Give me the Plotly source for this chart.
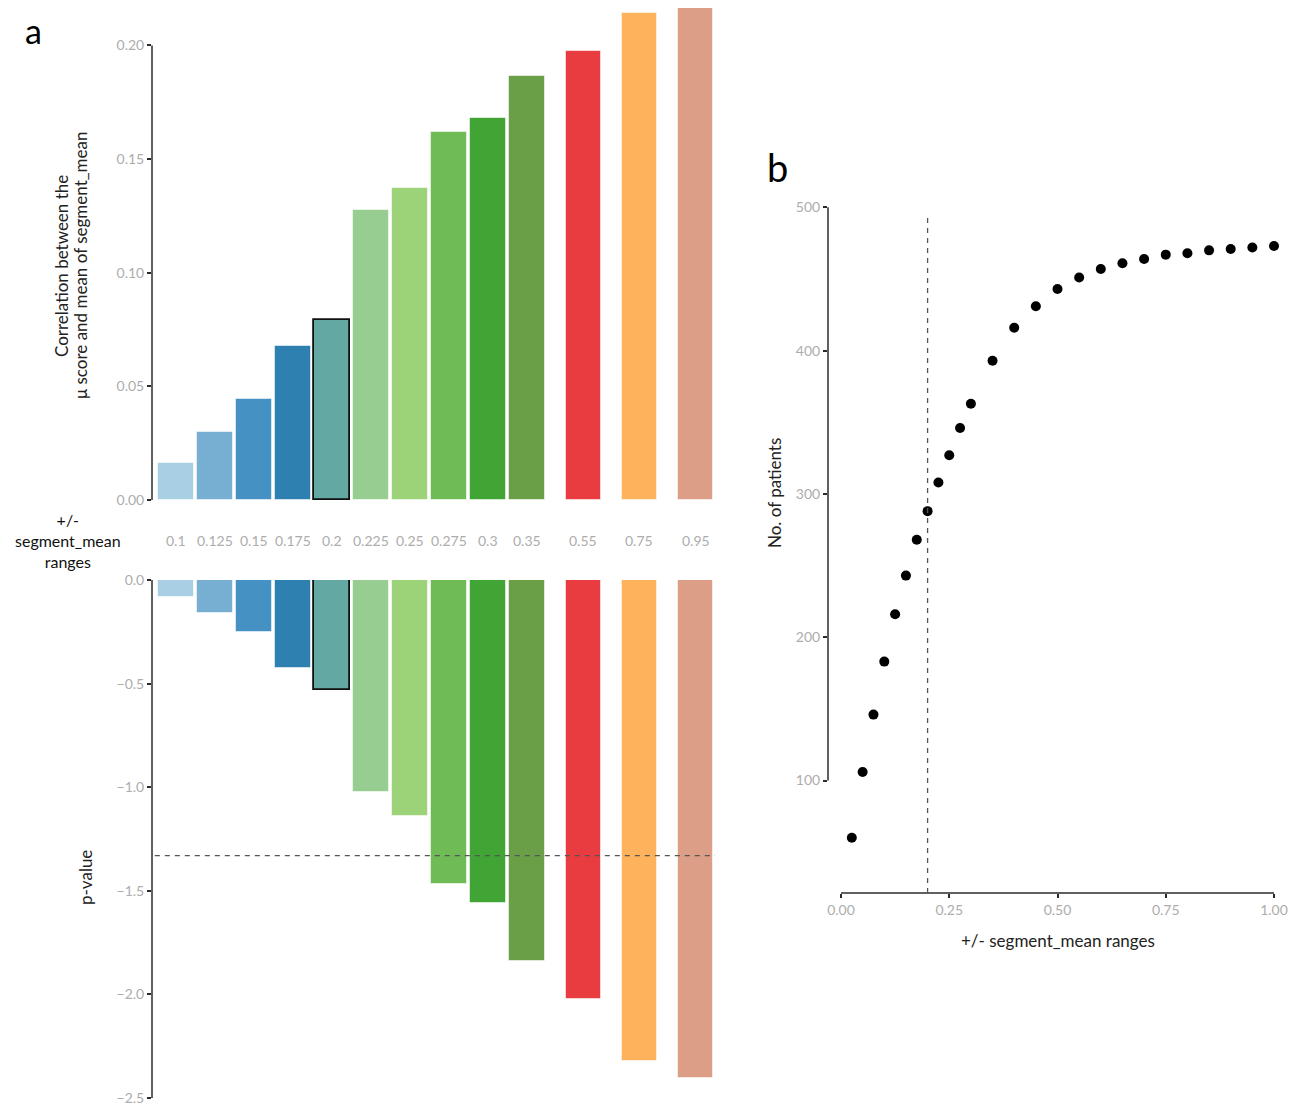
import plotly.graph_objects as go

# ---------------- data ----------------
categories = ["0.1", "0.125", "0.15", "0.175", "0.2", "0.225", "0.25", "0.275", "0.3", "0.35", "0.55", "0.75", "0.95"]
correlation = [0.0163, 0.0299, 0.0444, 0.0677, 0.0791, 0.1275, 0.1371, 0.1618, 0.1679, 0.1864, 0.1974, 0.2145, 0.2189]
pvalue_log = [-0.082, -0.159, -0.251, -0.425, -0.531, -1.023, -1.139, -1.467, -1.559, -1.839, -2.022, -2.321, -2.403]
bar_colors = ["#a8cfe3", "#77afd3", "#4591c3", "#2d80b0", "#63a8a3", "#98cd92", "#9dd378",
              "#6fbb55", "#40a535", "#6a9f48", "#e93c40", "#fdb25b", "#dd9e87"]
highlight = "0.2"
pvalue_threshold = -1.33

ranges_b = [0.025, 0.05, 0.075, 0.1, 0.125, 0.15, 0.175, 0.2, 0.225, 0.25, 0.275, 0.3,
            0.35, 0.4, 0.45, 0.5, 0.55, 0.6, 0.65, 0.7, 0.75, 0.8, 0.85, 0.9, 0.95, 1.0]
patients = [60, 106, 146, 183, 216, 243, 268, 288, 308, 327, 346, 363,
            393, 416, 431, 443, 451, 457, 461, 464, 467, 468, 470, 471, 472, 473]
chosen_range = 0.2

top_ticks = [0.0, 0.05, 0.10, 0.15, 0.20]
top_ticktext = ["0.00", "0.05", "0.10", "0.15", "0.20"]
bot_ticks = [0.0, -0.5, -1.0, -1.5, -2.0, -2.5]
bot_ticktext = ["0.0", "\u22120.5", "\u22121.0", "\u22121.5", "\u22122.0", "\u22122.5"]
b_xticks = [0.0, 0.25, 0.5, 0.75, 1.0]
b_xticktext = ["0.00", "0.25", "0.50", "0.75", "1.00"]
b_yticks = [100, 200, 300, 400, 500]

top_title_lines = ["Correlation between the", "\u03bc score and mean of segment_mean"]
mid_title = "+/-<br>segment_mean<br>ranges"

# ---------------- layout helpers ----------------
OFF = 8  # default page body margin
W, H = 1301 - OFF, 1109 - OFF
def px_x(p): return (p - OFF) / W
def px_y(p): return 1 - (p - OFF) / H

# bar slot positions: first ten evenly spaced, last three with wider gaps
gap_groups = [0] * 10 + [1, 2, 3]
xpos = [i + 1 + 0.44 * g for i, g in enumerate(gap_groups)]

FONT = "Lato"
GREY = "#adadad"
AX = "#2b2b2b"

line_cols = ["#111111" if c == highlight else "rgba(255,255,255,0.55)" for c in categories]
line_w = [1.8 if c == highlight else 1 for c in categories]

fig = go.Figure()
fig.add_trace(go.Bar(x=xpos, y=correlation, width=0.9, marker=dict(color=bar_colors, line=dict(color=line_cols, width=line_w)),
                     xaxis="x", yaxis="y", showlegend=False, hoverinfo="skip"))
fig.add_trace(go.Bar(x=xpos, y=pvalue_log, width=0.9, marker=dict(color=bar_colors, line=dict(color=line_cols, width=line_w)),
                     xaxis="x2", yaxis="y2", showlegend=False, hoverinfo="skip"))
fig.add_trace(go.Scatter(x=ranges_b, y=patients, mode="markers", marker=dict(color="black", size=10),
                         xaxis="x3", yaxis="y3", showlegend=False, cliponaxis=False))

xr = [0.385, 14.82]
tickfont = dict(family=FONT, size=14, color=GREY)
common_y = dict(showgrid=False, zeroline=False, showline=False, ticks="outside", ticklen=4, tickwidth=1.5,
                tickcolor=AX, tickfont=tickfont, automargin=False)

fig.update_layout(
    width=W, height=H, margin=dict(l=0, r=0, t=0, b=0, autoexpand=False),
    paper_bgcolor="white", plot_bgcolor="white",
    font=dict(family=FONT, size=15, color="#222"),
    bargap=0,
    xaxis=dict(domain=[px_x(152), px_x(715)], range=xr, visible=False, anchor="y", automargin=False),
    yaxis=dict(domain=[px_y(500), px_y(8)], range=[0, 0.22 * 492 / 500], tickvals=top_ticks, ticktext=top_ticktext,
               anchor="x", **common_y),
    xaxis2=dict(domain=[px_x(152), px_x(715)], range=xr, visible=False, anchor="y2", automargin=False),
    yaxis2=dict(domain=[px_y(1098), px_y(580)], range=[-2.5, 0], tickvals=bot_ticks, ticktext=bot_ticktext,
                anchor="x2", **common_y),
    xaxis3=dict(domain=[px_x(828), px_x(1287)], range=[-0.03, 1.03], tickvals=b_xticks, ticktext=b_xticktext,
                anchor="y3", showgrid=False, zeroline=False, showline=False, ticks="outside", ticklen=4,
                tickwidth=1.5, tickcolor=AX, tickfont=tickfont, automargin=False),
    yaxis3=dict(domain=[px_y(893), px_y(204.5)], range=[21.5, 502], tickvals=b_yticks,
                anchor="x3", **common_y),
)

DASH = "5px,5px"
shapes = [
    # capped axis lines
    dict(type="line", xref="x domain", yref="y", x0=0, x1=0, y0=0, y1=0.2, line=dict(color=AX, width=1.5)),
    dict(type="line", xref="x2 domain", yref="y2", x0=0, x1=0, y0=0, y1=-2.5, line=dict(color=AX, width=1.5)),
    dict(type="line", xref="x3 domain", yref="y3", x0=0, x1=0, y0=100, y1=500, line=dict(color=AX, width=1.5)),
    dict(type="line", xref="x3", yref="y3 domain", x0=0, x1=1, y0=0, y1=0, line=dict(color=AX, width=1.5)),
    # threshold lines
    dict(type="line", xref="x2 domain", yref="y2", x0=0.005, x1=1, y0=pvalue_threshold, y1=pvalue_threshold,
         line=dict(color="#555555", width=1.3, dash=DASH)),
    dict(type="line", xref="x3", yref="y3", x0=chosen_range, x1=chosen_range, y0=21.5, y1=493.4,
         line=dict(color="#555555", width=1.3, dash=DASH)),
]
fig.update_layout(shapes=shapes)

ann = []
for xp, lab in zip(xpos, categories):
    ann.append(dict(x=xp, y=px_y(540), xref="x", yref="paper", text=lab, showarrow=False,
                    font=dict(family=FONT, size=14, color=GREY), xanchor="center", yanchor="middle"))
TITLE = dict(family=FONT, size=17, color="#222")
for xp, line in zip([61, 80], top_title_lines):
    ann.append(dict(x=px_x(xp), y=px_y(266), xref="paper", yref="paper", text=line, showarrow=False,
                    textangle=-90, font=TITLE, xanchor="center", yanchor="middle"))
ann += [
    dict(x=px_x(68), y=px_y(541), xref="paper", yref="paper", text=mid_title, showarrow=False,
         font=dict(family=FONT, size=16, color="#111"), xanchor="center", yanchor="middle"),
    dict(x=px_x(33), y=1, xref="paper", yref="paper", text="a", showarrow=False,
         font=dict(family=FONT, size=34, color="black"), xanchor="center", yanchor="top"),
    dict(x=px_x(777), y=px_y(167), xref="paper", yref="paper", text="b", showarrow=False,
         font=dict(family=FONT, size=38, color="black"), xanchor="center", yanchor="middle"),
    dict(x=px_x(85), y=px_y(878), xref="paper", yref="paper", text="p-value", showarrow=False, textangle=-90,
         font=TITLE, xanchor="center", yanchor="middle"),
    dict(x=px_x(775), y=px_y(493), xref="paper", yref="paper", text="No. of patients", showarrow=False,
         textangle=-90, font=TITLE, xanchor="center", yanchor="middle"),
    dict(x=px_x(1058), y=px_y(940), xref="paper", yref="paper", text="+/- segment_mean ranges",
         showarrow=False, font=TITLE, xanchor="center", yanchor="middle"),
]
fig.update_layout(annotations=ann)

fig.write_html("out.html")
